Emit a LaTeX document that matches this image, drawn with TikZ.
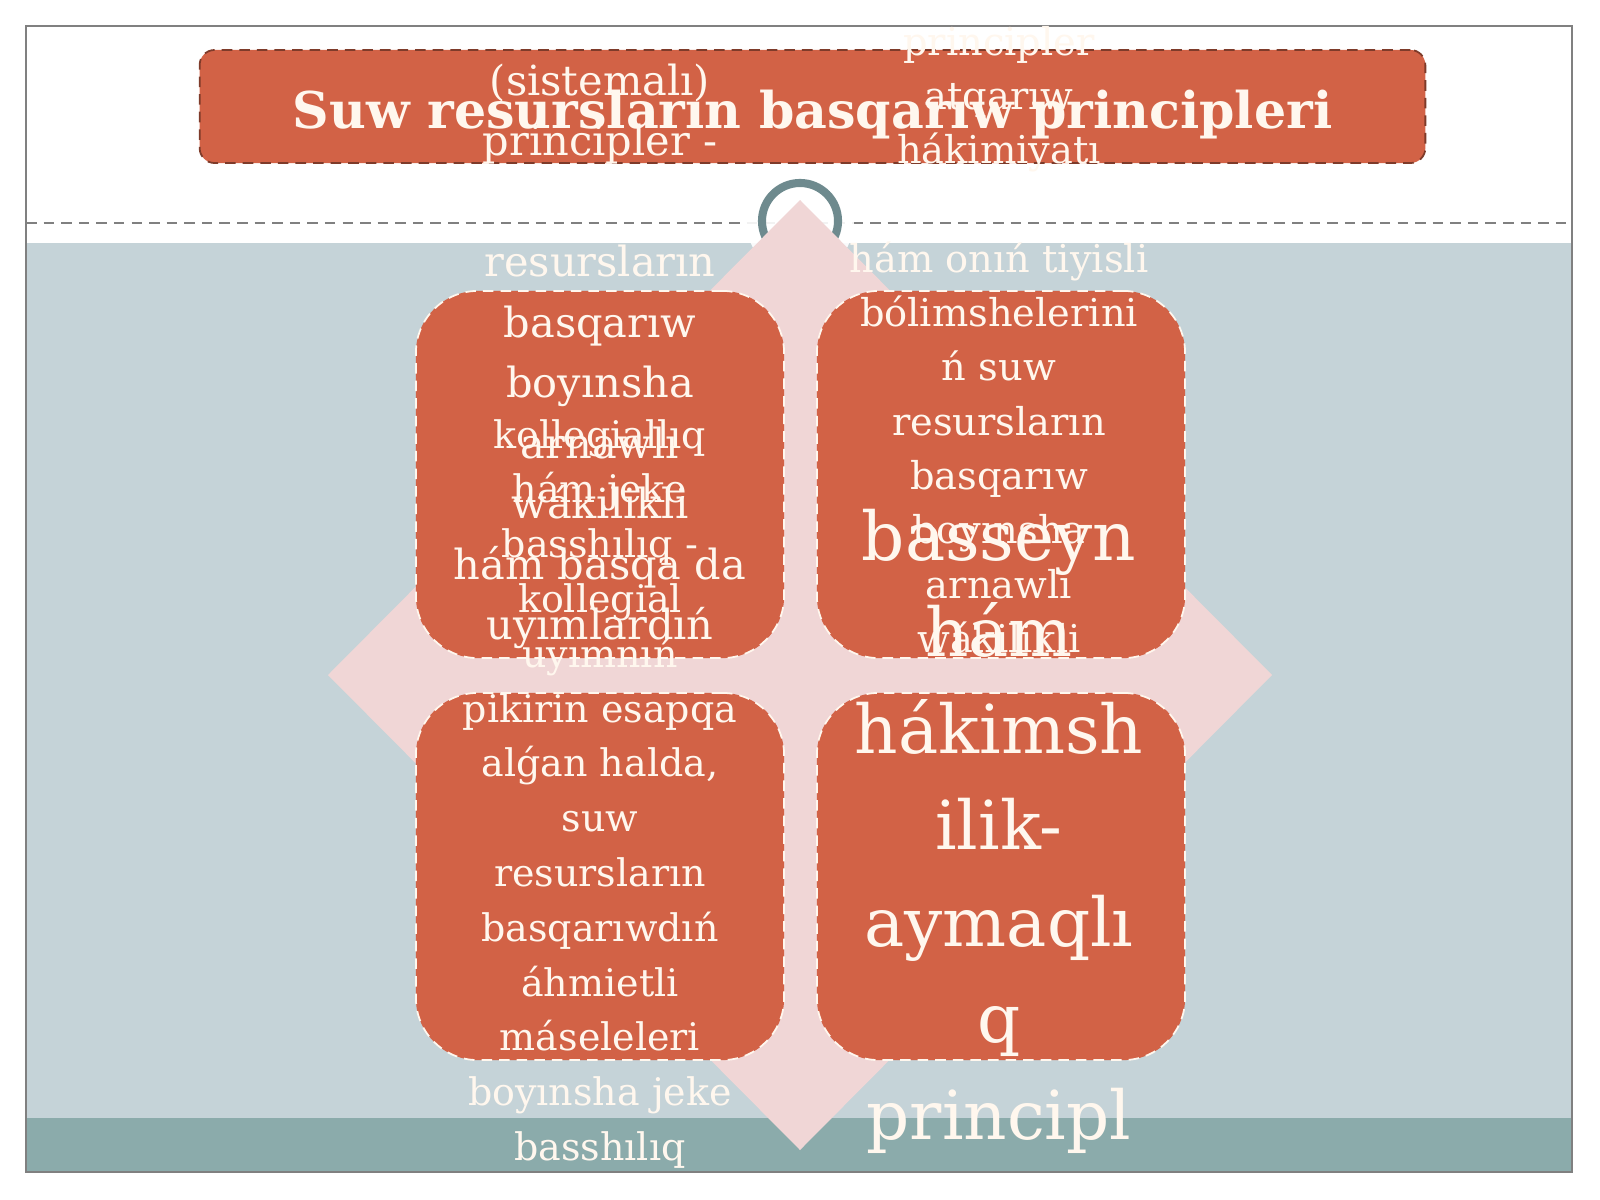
\documentclass[tikz,border=0pt]{standalone}
\usepackage{fontspec}
\setmainfont{DejaVu Serif}
\usetikzlibrary{positioning}
\definecolor{brick}{RGB}{210,98,70}
\definecolor{chalk}{RGB}{255,247,238}
\definecolor{mist}{RGB}{197,211,216}
\definecolor{sea}{RGB}{139,171,171}
\definecolor{blush}{RGB}{240,214,214}
\definecolor{slate}{RGB}{110,138,142}
\begin{document}
\begin{tikzpicture} [
        x=0.01cm, y=-0.01cm,
        tile/.style={draw=chalk, densely dashed, line width=0.5pt, fill=brick, rounded corners=0.62cm, minimum width=3.68cm, minimum height=3.67cm, inner sep=0pt},
        banner/.style={draw=brick!60!black, densely dashed, line width=0.5pt, fill=brick, rounded corners=0.15cm, minimum width=12.25cm, minimum height=1.13cm},
        line/.style={text=chalk, inner sep=0pt, anchor=base},
        tlline/.style={line, font=\fontsize{11.8}{14}\selectfont},
        trline/.style={line, font=\fontsize{10.9}{13}\selectfont},
        blline/.style={line, font=\fontsize{10.8}{13}\selectfont},
        brline/.style={line, font=\fontsize{19.2}{23}\selectfont} ]
    \useasboundingbox (0,0) rectangle (1600,1200);
    \fill[white] (0,0) rectangle (1600,1200);
    \fill[mist] (26,243) rectangle (1572,1118);
    \fill[sea] (26,1118) rectangle (1572,1172);
    \draw[gray, line width=0.6pt] (26,26) rectangle (1572,1172);
    \draw[gray, densely dashed, line width=0.4pt] (26,223) -- (1572,223);

    \node[banner] (title) at (812.5,106.5) {};
    \node[line, font=\bfseries\fontsize{14.4}{17}\selectfont] (head) at (812.5,128) {Suw resursların basqarıw principleri};

    \fill[white, opacity=0.9] (800,221) circle (0.54cm);
    \draw[slate, line width=2.3pt] (800,221) circle (0.38cm);
    \fill[blush] (800,200) -- (1272,675) -- (800,1150) -- (328,675) -- cycle;

    \node[tile] (tlbox) at (600,474.5) {};
    \foreach \w [count=\i] in {(sistemalı), principler -, {}, resursların, basqarıw, boyınsha, arnawlı, wákilikli, hám basqa da, uyımlardıń}
        \node[tlline] (tl\i) at (600,{95+(\i-1)*60.5}) {\w};

    \node[tile, right=0.31cm of tlbox] (trbox) {};
    \foreach \w [count=\i] in {principler, atqarıw, hákimiyatı, {}, hám onıń tiyisli, bólimshelerini, ń suw, resursların, basqarıw, boyınsha, arnawlı, wákilikli}
        \node[trline] (tr\i) at (999,{55+(\i-1)*54.3}) {\w};

    \node[tile, below=0.33cm of tlbox] (blbox) {};
    \foreach \w [count=\i] in {kollegiallıq, hám jeke, basshılıq -, kollegial, uyımnıń, pikirin esapqa, {alǵan halda,}, suw, resursların, basqarıwdıń, áhmietli, máseleleri, boyınsha jeke, basshılıq}
        \node[blline] (bl\i) at (600,{448+(\i-1)*54.8}) {\w};

    \node[tile, below=0.33cm of trbox] (brbox) {};
    \foreach \w [count=\i] in {basseyn, hám, hákimsh, ilik-, aymaqlı, q, principl}
        \node[brline] (br\i) at (999,{560+(\i-1)*96.5}) {\w};
\end{tikzpicture}
\end{document}
